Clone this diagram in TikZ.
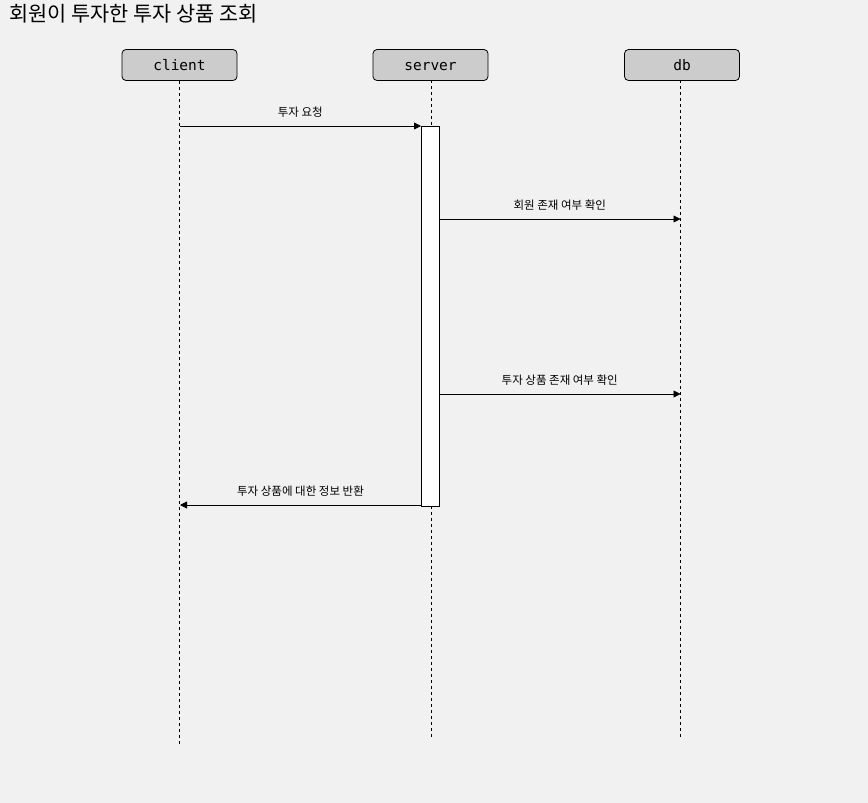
\documentclass[tikz,border=0pt]{standalone}
\usepackage{fontspec}
\newfontfamily\kr{Noto Sans CJK KR}
\newfontfamily\mono{DejaVu Sans Mono}
\usetikzlibrary{arrows.meta}
\definecolor{bg}{HTML}{F1F1F1}
\definecolor{actor}{HTML}{CCCCCC}
\begin{document}
\begin{tikzpicture}[x=1pt,y=-1pt,
  actorbox/.style={draw=black,fill=actor,rounded corners=4pt,minimum width=115pt,minimum height=31pt,inner sep=0pt,font=\mono\fontsize{14.5}{16}\selectfont,line width=0.8pt},
  lifeline/.style={dash pattern=on 3pt off 3pt,line width=0.8pt},
  msg/.style={line width=0.8pt,-{Triangle[length=7pt,width=7pt]}},
  lbl/.style={font=\kr\fontsize{11.5}{13}\selectfont,inner sep=0pt}]
\fill[bg] (0,0) rectangle (868,803);
\useasboundingbox (0,0) rectangle (868,803);
\node[anchor=base west,font=\kr\fontsize{20.8}{24}\selectfont,inner sep=0pt] (title) at (9,21) {회원이 투자한 투자 상품 조회};
\node[actorbox,text depth=0pt,text height=10pt] (client) at (179.5,65) {client};
\node[actorbox,text depth=0pt,text height=10pt] (server) at (430.5,65) {server};
\node[actorbox,text depth=0pt,text height=10pt] (db) at (682,65) {db};
\coordinate (cend) at (179.5,746);
\coordinate (send) at (431,738);
\coordinate (dend) at (680.5,738);
\draw[lifeline] (client.south) -- (cend);
\draw[lifeline] (431,80) -- (send);
\draw[lifeline] (680.5,80) -- (dend);
\node[draw=black,fill=white,line width=0.8pt,minimum width=18pt,minimum height=380pt,inner sep=0pt] (act) at (430,316) {};
\coordinate (c1) at (179.5,126);
\coordinate (a1) at (421,126);
\draw[msg] (c1) -- (a1) node[lbl,midway,above=8.5pt] (l1) {투자 요청};
\coordinate (a2) at (439,219);
\coordinate (d2) at (680.5,219);
\draw[msg] (a2) -- (d2) node[lbl,midway,above=8.5pt] (l2) {회원 존재 여부 확인};
\coordinate (a3) at (439,394);
\coordinate (d3) at (680.5,394);
\draw[msg] (a3) -- (d3) node[lbl,midway,above=8.5pt] (l3) {투자 상품 존재 여부 확인};
\coordinate (a4) at (421,505);
\coordinate (c4) at (180,505);
\draw[msg] (a4) -- (c4) node[lbl,midway,above=8.5pt] (l4) {투자 상품에 대한 정보 반환};
\end{tikzpicture}
\end{document}
